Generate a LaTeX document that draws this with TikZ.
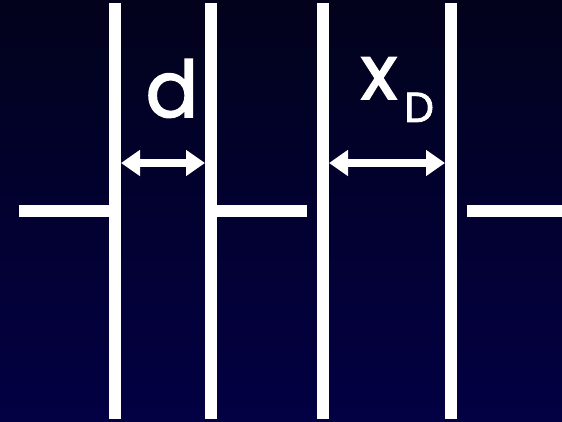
\documentclass[tikz,border=0pt]{standalone}
\usepackage{fontspec}
\newfontfamily\lblfont{Poppins}[FakeBold=2]
\usetikzlibrary{arrows.meta}
\definecolor{bgtop}{RGB}{2,2,28}
\definecolor{bgbot}{RGB}{3,0,68}
\tikzset{
	plate/.style={white, line width=12pt},
	gap/.style={white, line width=8pt, {Triangle[length=19pt,width=25pt]}-{Triangle[length=19pt,width=25pt]}},
	lbl/.style={text=white, inner sep=0pt}
}
\begin{document}
\begin{tikzpicture}[x=1pt, y=-1pt]
	% background
	\shade[top color=bgtop, bottom color=bgbot] (0,0) rectangle (562,422);
	\useasboundingbox (0,0) rectangle (562,422);
	% plates
	\foreach \n/\x in {p1/115, p2/211, p3/323, p4/451} {
		\coordinate (\n top) at (\x,3);
		\coordinate (\n bot) at (\x,419);
		\draw[plate] (\n top) -- (\n bot);
	}
	% leads
	\coordinate (l1) at (19,211);
	\coordinate (l2) at (109,211);
	\coordinate (m1) at (217,211);
	\coordinate (m2) at (307,211);
	\coordinate (r1) at (467,211);
	\coordinate (r2) at (562,211);
	\draw[plate] (l1) -- (l2);
	\draw[plate] (m1) -- (m2);
	\draw[plate] (r1) -- (r2);
	% distances
	\coordinate (d1) at (121,163);
	\coordinate (d2) at (205,163);
	\coordinate (x1) at (329,163);
	\coordinate (x2) at (445,163);
	\draw[gap] (d1) -- (d2);
	\draw[gap] (x1) -- (x2);
	% labels
	\node[lbl, anchor=base, font=\lblfont\fontsize{78}{78}\selectfont] (dlab) at (172,117) {d};
	\node[lbl, anchor=base, font=\lblfont\fontsize{76}{76}\selectfont] (xlab) at (379,99) {x};
	\node[lbl, anchor=base west, font=\lblfont\fontsize{42}{42}\selectfont] (Dlab) at (404,122) {D};
\end{tikzpicture}
\end{document}
